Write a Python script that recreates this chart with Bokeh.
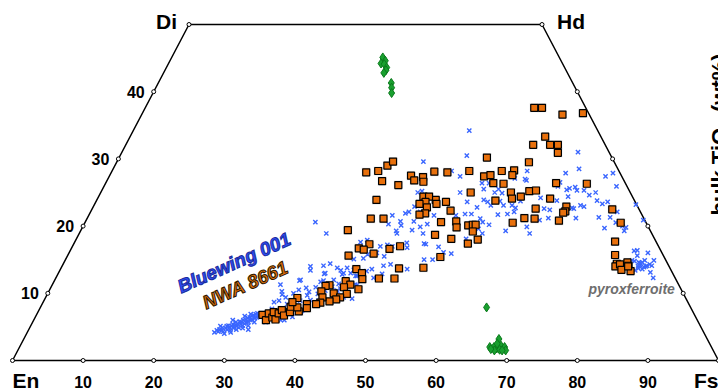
import math
from bokeh.plotting import figure
from bokeh.models import Range1d
from bokeh.core.properties import value
from bokeh.embed import file_html
from bokeh.resources import INLINE

# ---- data (Fs, Wo in mol%) ----
BW_FS = [26.5,26.7,27.0,27.0,27.4,27.3,27.7,27.8,27.8,28.1,28.0,28.3,28.6,28.5,28.5,28.9,28.8,28.8,29.2,29.1,
         29.6,29.3,29.6,29.6,30.0,29.7,30.1,30.0,30.3,30.2,30.5,30.4,30.7,30.6,30.9,30.8,31.2,31.0,31.4,31.2,
         31.6,28.0,28.8,29.4,30.2,30.8,31.4,26.9,29.6,30.3,28.2,31.1,
         32.3,33.3,34.0,34.8,35.3,34.7,36.9,36.9,37.7,37.5,38.3,37.7,37.8,39.1,39.8,41.1,40.3,42.3,43.2,36.3,
         35.2,34.7,35.0,32.7,40.6,40.8,33.0,32.9,37.3,32.6,33.3,38.9,33.4,36.4,
         32.6,35.0,40.5,41.3,43.6,44.5,45.3,40.8,42.1,42.4,43.6,44.9,45.5,46.4,35.2,35.5,37.0,37.8,39.1,39.8,
         40.4,40.5,41.4,41.6,42.5,42.8,43.5,44.1,45.0,45.9,37.8,38.1,34.8,39.5,40.5,42.9,43.6,43.5,42.2,49.1,
         47.1,47.5,45.1,44.7,43.0,43.1,44.6,45.0,44.7,45.0,46.9,46.5,47.8,48.6,48.7,48.9,49.6,50.8,52.0,51.9,
         44.9,45.5,46.7,
         47.6,49.1,43.4,48.1,49.7,53.3,54.0,54.3,55.8,56.1,56.9,57.6,59.1,58.8,59.4,50.9,52.6,54.8,55.5,56.2,
         57.2,58.0,59.2,59.9,60.0,60.1,62.7,64.0,64.9,65.2,64.3,45.4,54.4,53.2,54.1,55.7,56.3,57.4,57.9,59.2,
         60.2,62.9,63.8,64.2,65.3,52.0,53.1,55.2,56.2,57.1,49.9,53.0,54.2,
         64.6,66.0,64.4,64.3,66.1,66.8,67.3,68.3,69.4,70.1,70.9,68.2,68.9,69.5,72.4,69.2,65.8,66.5,67.9,71.9,
         72.5,70.3,71.1,72.6,74.0,74.6,74.0,75.2,76.4,77.0,77.0,76.7,78.9,
         79.9,80.3,82.0,80.7,81.4,81.9,81.9,82.5,82.8,83.5,83.4,83.8,84.6,81.5,80.3,80.7,81.6,82.7,82.4,81.6,
         82.1,83.1,81.8,
         33.0,36.2,35.5]
BW_WO = [4.2,4.5,4.3,4.6,4.5,4.9,4.3,4.8,5.1,4.6,5.2,4.9,4.5,5.1,5.4,4.8,5.2,5.7,5.1,5.5,
         4.9,5.8,5.4,5.7,5.2,6.0,5.5,6.1,5.7,6.3,5.8,6.4,6.0,6.6,6.1,6.7,6.3,6.9,6.4,7.0,
         6.6,4.0,4.2,4.6,4.8,5.2,5.7,5.1,6.6,6.9,6.0,4.6,
         11.3,9.8,9.4,10.0,10.5,11.9,9.7,10.2,9.0,10.9,9.9,12.9,11.7,10.4,11.0,10.7,12.8,12.6,11.2,8.9,
         6.4,8.4,6.0,8.7,9.4,10.4,5.7,7.7,7.4,6.9,8.9,8.9,6.2,6.5,
         20.6,18.9,17.6,17.9,17.0,17.2,17.0,15.1,15.2,15.8,16.0,15.5,14.1,14.3,14.0,13.4,14.1,14.4,13.8,13.4,
         13.0,13.8,13.0,13.5,12.6,12.9,13.3,13.6,12.3,12.9,13.0,11.9,12.0,12.0,11.4,11.3,10.4,9.2,9.4,13.6,
         17.5,16.8,22.1,21.9,21.6,20.3,20.7,20.1,19.3,18.9,19.4,20.7,19.9,20.3,18.9,21.6,17.4,15.0,15.0,16.9,
         25.0,22.9,22.1,
         34.2,30.5,29.6,28.2,27.4,26.4,25.5,26.4,25.0,25.5,24.9,27.1,27.0,28.2,26.8,25.0,23.6,23.9,23.6,23.1,
         23.7,23.1,23.1,22.7,22.1,23.7,24.2,22.6,22.4,23.8,25.9,25.2,22.8,21.8,21.8,21.1,20.6,20.2,21.7,21.8,
         19.3,19.9,18.9,20.9,21.2,21.6,19.8,18.1,19.6,18.9,17.3,16.1,15.9,
         31.0,28.5,27.9,26.5,25.6,25.8,25.3,25.3,24.6,25.0,23.8,22.6,23.1,22.9,21.3,21.2,25.4,24.4,22.7,23.3,
         23.6,27.4,27.9,25.9,21.3,22.1,19.7,20.5,20.0,19.3,19.8,23.2,20.9,
         16.3,16.4,16.0,15.6,14.6,14.6,14.1,13.9,14.1,14.1,14.9,13.1,12.3,13.4,14.9,14.8,14.0,14.0,13.6,14.5,
         14.9,14.3,13.7,
         10.3,10.8,6.0]

NWA_FS = [32.0,32.9,32.8,33.6,33.4,34.2,34.2,34.4,35.1,35.7,36.9,35.4,39.6,40.2,42.0,37.8,41.9,40.7,41.5,43.2,
          39.8,45.1,46.4,41.9,43.0,43.5,45.8,48.0,47.9,51.3,41.3,42.2,41.5,43.7,42.4,39.3,38.8,38.6,40.5,41.7,
          41.3,40.5,39.2,39.3,38.8,37.5,37.8,35.7,36.4,35.3,48.0,48.4,46.0,46.8,46.7,46.0,47.3,47.5,46.8,50.5,
          52.9,58.8,57.7,60.1,61.2,61.8,58.4,52.1,45.7,47.6,50.6,53.1,53.9,55.2,56.9,57.0,44.5,44.9,54.9,56.4,
          63.8,60.6,61.5,58.1,59.8,58.7,64.1,52.4,56.5,49.6,50.9,62.8,63.4,61.9,60.6,67.0,50.4,52.5,53.0,54.5,
          55.1,55.5,55.6,56.9,55.8,53.1,59.6,62.4,68.2,67.0,67.2,67.0,73.7,75.9,76.5,77.5,78.4,78.4,78.9,79.5,
          79.8,80.2,80.9,80.2,55.1,56.2,36.1,37.7,38.6,39.1,39.0,41.6,42.7,43.5]
NWA_WO = [6.8,6.0,7.0,6.4,7.2,6.1,7.0,7.5,6.7,7.2,7.3,8.0,23.9,21.1,21.1,19.4,17.3,16.7,16.5,15.9,
          15.6,16.6,17.0,13.6,13.0,12.1,12.2,12.2,13.7,13.8,11.8,11.3,10.9,10.6,9.9,11.2,11.1,10.3,10.0,9.4,
          9.1,8.8,9.4,8.6,8.4,8.4,7.8,9.3,7.9,8.7,23.9,23.3,24.4,24.4,23.6,23.3,22.8,21.9,21.7,18.7,
          15.4,33.3,32.1,32.1,32.1,30.9,29.5,30.2,28.1,28.0,28.2,27.4,27.6,28.2,28.3,27.6,27.3,26.6,26.4,26.3,
          26.4,25.2,25.3,25.0,24.4,24.1,24.1,25.0,23.8,23.6,22.3,22.6,21.1,21.2,20.5,20.8,20.6,20.7,19.8,20.1,
          20.2,20.2,19.2,18.0,17.4,18.1,36.6,36.8,26.3,22.9,22.2,22.0,22.5,20.5,17.7,15.7,14.4,14.0,14.3,13.5,
          14.6,14.1,13.3,14.0,37.6,37.6,28.0,28.2,29.0,29.6,26.7,26.1,27.5,26.8]

GR_FS = [29.9,30.5,30.1,30.6,31.2,31.3,31.2,33.0,33.4,33.8,
         63.2,67.3,66.6,67.2,67.7,68.1,68.7,69.1,68.2,67.5,68.6,66.9,67.4]
GR_WO = [45.1,44.6,44.2,44.1,43.6,43.2,42.8,41.3,40.6,39.8,
         7.9,3.2,2.0,2.0,1.8,2.2,2.0,1.5,1.6,1.5,1.5,1.7,2.5]

CORNERS = ["En", "Fs", "Hd", "Di"]
CORNER_FS = [0, 100, 50, 0]
CORNER_WO = [0, 0, 50, 50]
BOTTOM_TICKS = [10, 20, 30, 40, 50, 60, 70, 80, 90]
SIDE_TICKS = [10, 20, 30, 40]

def tx(fs, wo):
    return [f + w / 2 for f, w in zip(fs, wo)]

PX = 1 / 7.06   # data units per pixel (x)
PY = 1 / 6.72   # data units per pixel (y)
FONT = value("Liberation Sans")

p = figure(width=718, height=391, x_range=Range1d(-12 * PX, 706 * PX), y_range=Range1d(-31 * PY, 360 * PY),
           output_backend="svg", toolbar_location=None, x_axis_location=None, y_axis_location=None,
           min_border=0, outline_line_color=None, background_fill_color="white", border_fill_color="white")
p.grid.visible = False

# outline of the quadrilateral
qx = tx(CORNER_FS + [CORNER_FS[0]], CORNER_WO + [CORNER_WO[0]])
qy = CORNER_WO + [CORNER_WO[0]]
p.line(qx, qy, line_color="black", line_width=1.5)

# ticks
tkx = list(BOTTOM_TICKS) + [w / 2 for w in SIDE_TICKS] + [100 - w / 2 for w in SIDE_TICKS] + tx(CORNER_FS, CORNER_WO)
tky = [0] * len(BOTTOM_TICKS) + list(SIDE_TICKS) + list(SIDE_TICKS) + CORNER_WO
p.scatter(tkx, tky, marker="circle", size=4, fill_color="white", line_color="black", line_width=1)

# tick labels
p.text(x=BOTTOM_TICKS, y=[-21 * PY] * len(BOTTOM_TICKS), text=[str(t) for t in BOTTOM_TICKS],
       text_font=FONT, text_font_style="bold", text_font_size="16px", text_color="black",
       text_align="center", text_baseline="middle")
p.text(x=[w / 2 - 9 * PX for w in SIDE_TICKS], y=SIDE_TICKS, text=[str(t) for t in SIDE_TICKS],
       text_font=FONT, text_font_style="bold", text_font_size="16px", text_color="black",
       text_align="right", text_baseline="middle")

# corner labels
cxs = tx(CORNER_FS, CORNER_WO)
p.text(x=[cxs[0], cxs[1], cxs[2] + 15 * PX, cxs[3] - 12 * PX],
       y=[-20 * PY, -20 * PY, CORNER_WO[2] + 3 * PY, CORNER_WO[3] + 3 * PY],
       text=CORNERS, text_font=FONT, text_font_style="bold", text_font_size="21px", text_color="black",
       text_align=["left", "right", "left", "right"], text_baseline="middle")

# data
p.scatter(tx(BW_FS, BW_WO), BW_WO, marker="x", size=6, line_color="#3a66ff", line_width=1.4)
nx = tx(NWA_FS, NWA_WO)
p.scatter(nx, NWA_WO, marker="square", size=9, fill_color="#999999", fill_alpha=0.25, line_color=None)
p.scatter(nx, NWA_WO, marker="square", size=7, fill_color="#e8700c", line_color="black", line_width=1.2)
p.scatter(tx(GR_FS, GR_WO), GR_WO, marker="diamond", size=9, fill_color="#19a02f", line_color="#0b7a1c",
          line_width=1)

# series labels
def px2x(px):
    return (px - 12) * PX
def py2y(py):
    return (360 - py) * PY

ang = math.radians(24)
p.text(x=[px2x(178)], y=[py2y(287)], text=["Bluewing 001"], angle=ang, text_font=FONT,
       text_font_style="bold italic", text_font_size="19px", text_color="#2d4cf5",
       text_outline_color="#1a2a9a", text_align="left", text_baseline="alphabetic")
p.text(x=[px2x(203)], y=[py2y(303)], text=["NWA 8661"], angle=ang, text_font=FONT,
       text_font_style="bold italic", text_font_size="19px", text_color="#e0700c",
       text_outline_color="#2a1500", text_align="left", text_baseline="alphabetic")
p.text(x=[px2x(588)], y=[py2y(288)], text=["pyroxferroite"], text_font=FONT,
       text_font_style="bold italic", text_font_size="14px", text_color="#6e6e6e",
       text_align="left", text_baseline="middle")

# clipped colourbar title from neighbouring panel
p.text(x=[px2x(706)], y=[py2y(215)], text=["bulk TiO\u2082 (wt%)"], angle=math.pi / 2, text_font=FONT,
       text_font_style="bold", text_font_size="22px", text_color="black",
       text_align="left", text_baseline="top")

open("out.html", "w").write(file_html(p, INLINE))
